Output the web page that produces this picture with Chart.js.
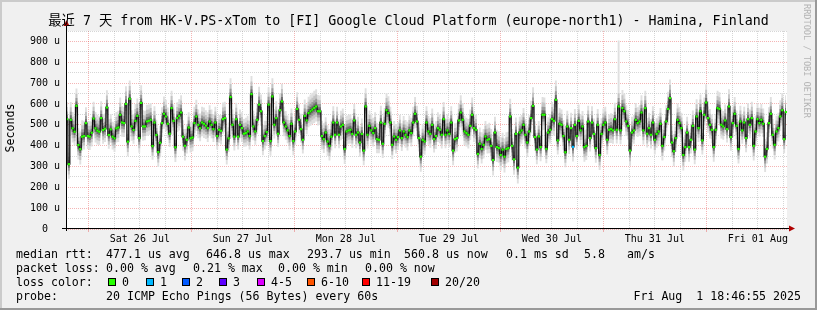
<!DOCTYPE html>
<html>
<head>
<meta charset="utf-8">
<script src="https://cdn.jsdelivr.net/npm/chart.js@4.4.1/dist/chart.umd.min.js"></script>
<style>
  html, body { margin: 0; padding: 0; }
  body { width: 817px; height: 310px; overflow: hidden; }
  #frame {
    position: relative; width: 817px; height: 310px; background: #f0f0f0;
    box-shadow: inset -2px -2px 0 #999999, inset 2px 2px 0 #cbcbcb;
  }
  canvas { position: absolute; left: 0; top: 0; }
  .t { position: absolute; font-family: 'DejaVu Sans Mono', monospace; font-size: 11.6px;
       line-height: 14px; white-space: pre; color: #000; }
  #title { position: absolute; left: 0; width: 817px; top: 13px; text-align: center;
           font-family: 'DejaVu Sans Mono', 'Noto Sans CJK SC', monospace; font-size: 13.3px;
           line-height: 16px; white-space: pre; color: #000; }
  #ylabel { position: absolute; left: -22px; top: 121px; width: 64px; text-align: center;
            transform: rotate(-90deg); font-family: 'DejaVu Sans Mono', monospace;
            font-size: 11.6px; line-height: 14px; }
  #mark { position: absolute; left: 802px; top: 4px; writing-mode: vertical-rl;
          font-family: 'DejaVu Sans Mono', monospace; font-size: 8.6px; color: #b4b4b4;
          white-space: pre; line-height: 10px; }
  .box { position: absolute; width: 6px; height: 6px; border: 1px solid #000; }
</style>
</head>
<body>
<div id="frame">
  <canvas id="myChart" width="817" height="310"></canvas>
  <div id="title"></div>
  <div id="ylabel">Seconds</div>
  <div id="mark">RRDTOOL / TOBI OETIKER</div>
</div>
<script>
'use strict'
const title = '最近 7 天 from HK-V.PS-xTom to [FI] Google Cloud Platform (europe-north1) - Hamina, Finland'
const days = ['Sat 26 Jul', 'Sun 27 Jul', 'Mon 28 Jul', 'Tue 29 Jul', 'Wed 30 Jul', 'Thu 31 Jul', 'Fri 01 Aug']
const hoursShown = 168
const hoursToFirstMidnight = 5.218 // graph starts Fri 25 Jul 18:46:55

// median rtt per step, in microseconds (u)
const median = [
  527, 311, 524, 483, 467, 591, 403, 383, 443, 446,
  508, 446, 443, 462, 530, 483, 472, 467, 532, 475,
  481, 583, 451, 478, 443, 435, 483, 487, 548, 511,
  508, 600, 419, 625, 492, 475, 519, 543, 436, 605,
  492, 492, 516, 519, 524, 398, 511, 451, 369, 414,
  508, 553, 540, 505, 457, 580, 519, 392, 532, 543,
  559, 443, 399, 428, 487, 435, 439, 508, 540, 500,
  483, 511, 505,
  496, 484, 516, 500, 479, 511, 446, 476, 471, 527,
  532, 381, 435, 633, 500, 443, 527, 443, 500, 484,
  457, 460, 468, 446, 647, 492, 468, 524, 597, 565,
  422, 446, 465, 597, 422, 636, 500, 532, 457, 570,
  612, 511, 492, 473, 446, 505, 422, 468, 576, 524,
  479, 428, 543, 521, 556, 565, 573, 581, 588, 565,
  565, 446, 431, 463, 420, 399, 443, 511, 452, 511,
  452, 492, 500, 384, 468, 473, 476,
  456, 521, 452, 463, 415, 456, 376, 588, 452, 495,
  473, 460, 484, 431, 428, 511, 409, 505, 570, 556,
  511, 404, 444, 428, 441, 473, 436, 468, 452, 441,
  473, 460, 511, 553, 516, 436, 347, 428, 420, 511,
  468, 456, 500, 431, 446, 484, 476, 452, 527, 452,
  473, 456, 511, 376, 431, 436, 521, 559, 524, 468,
  460, 452, 495, 548, 484, 476, 360, 409, 384, 404,
  444, 428, 431, 399, 331, 463,
  393, 388, 355, 381, 347, 384, 388, 540, 399, 334,
  457, 294, 463, 473, 500, 452, 415, 468, 532, 591,
  441, 381, 444, 393, 548, 548, 384, 463, 476, 527,
  519, 620, 425, 505, 500, 446, 368, 492, 428, 484,
  394, 500, 446, 519, 473, 492, 393, 399, 516, 436,
  511, 456, 388, 500, 355, 456, 500, 511, 428, 476,
  479, 473, 527, 476, 588, 473, 580, 565, 516, 495,
  376, 463, 473, 524, 508, 516, 559,
  473, 580, 457, 484, 452, 511, 428, 456, 468, 505,
  399, 441, 516, 576, 628, 415, 373, 436, 524, 508,
  484, 355, 393, 463, 393, 428, 495, 381, 540, 484,
  565, 425, 548, 607, 532, 500, 476, 393, 476, 580,
  576, 500, 492, 521, 479, 588, 441, 508, 553, 495,
  384, 516, 473, 511, 436, 527, 500, 532, 399, 468,
  527, 508, 524, 505, 347, 384, 508, 553, 452, 404,
  468, 484, 540, 570, 431, 561
]

// half height of the smoke (ping spread) per step, in u
const spread = [
  72, 70, 74, 68, 66, 72, 70, 74, 68, 64,
  66, 62, 64, 66, 70, 68, 66, 64, 70, 66,
  64, 72, 66, 64, 62, 66, 68, 70, 72, 68,
  66, 74, 70, 76, 68, 66, 70, 72, 70, 74,
  68, 66, 70, 68, 70, 66, 68, 64, 72, 70,
  66, 72, 70, 68, 64, 72, 68, 70, 66, 70,
  72, 68, 70, 66, 64, 68, 66, 68, 70, 64,
  62, 66, 68,
  64, 66, 68, 64, 62, 66, 64, 62, 66, 70,
  68, 72, 66, 78, 64, 66, 68, 62, 64, 66,
  62, 64, 66, 64, 76, 66, 64, 68, 74, 70,
  68, 64, 66, 72, 70, 76, 66, 70, 64, 70,
  74, 66, 64, 62, 66, 64, 68, 64, 70, 66,
  64, 66, 68, 66, 68, 70, 70, 72, 72, 68,
  66, 64, 66, 64, 68, 70, 66, 68, 64, 66,
  64, 66, 68, 72, 66, 64, 66,
  66, 68, 64, 66, 68, 64, 70, 76, 66, 64,
  66, 64, 66, 68, 64, 70, 68, 66, 72, 70,
  66, 68, 64, 66, 62, 64, 62, 64, 62, 64,
  62, 64, 66, 70, 66, 64, 72, 66, 64, 68,
  64, 66, 68, 64, 62, 66, 64, 66, 72, 64,
  66, 64, 68, 70, 66, 64, 68, 72, 70, 66,
  64, 66, 68, 72, 66, 64, 70, 68, 70, 66,
  64, 66, 68, 70, 74, 66,
  72, 70, 74, 70, 76, 70, 68, 74, 70, 74,
  68, 76, 66, 64, 70, 66, 70, 68, 72, 78,
  66, 70, 64, 68, 74, 72, 68, 64, 66, 72,
  70, 80, 68, 66, 64, 66, 72, 66, 68, 64,
  70, 66, 64, 68, 66, 64, 70, 68, 66, 64,
  68, 64, 70, 66, 72, 66, 68, 66, 70, 64,
  66, 64, 68, 66, 78, 66, 76, 74, 68, 66,
  72, 66, 64, 70, 66, 68, 72,
  68, 72, 66, 64, 66, 68, 70, 66, 64, 66,
  70, 66, 68, 72, 78, 70, 72, 66, 68, 66,
  64, 74, 70, 66, 70, 66, 64, 70, 72, 66,
  70, 68, 72, 76, 70, 66, 64, 70, 66, 72,
  70, 66, 64, 66, 64, 72, 66, 68, 70, 64,
  70, 66, 64, 66, 68, 66, 64, 68, 70, 66,
  66, 64, 66, 64, 74, 70, 66, 70, 66, 70,
  66, 64, 68, 72, 68, 70
]

// single outlier ping column
const spikeIdx = [290]
const spikeTop = [905]
// steps with one lost ping
const lossIdx = [266]

const yTicks = [0, 100, 200, 300, 400, 500, 600, 700, 800, 900]

const rttLine = ['median rtt:', '477.1 us avg', '646.8 us max', '293.7 us min', '560.8 us now', '0.1 ms sd', '5.8', 'am/s']
const lossLine = ['packet loss:', '0.00 % avg', '0.21 % max', '0.00 % min', '0.00 % now']
const lossLabels = ['0', '1', '2', '3', '4-5', '6-10', '11-19', '20/20']
const lossColors = ['#26ff00', '#00b8ff', '#0059ff', '#5e00ff', '#dd00ff', '#ff5500', '#ff0000', '#a10000']
const probeLine = ['probe:', '20 ICMP Echo Pings (56 Bytes) every 60s']
const stamp = 'Fri Aug  1 18:46:55 2025'

// ---- text around the graph
const frame = document.querySelector('#frame')
document.querySelector('#title').textContent = title
function addText(str, left, top) {
  const el = document.createElement('div')
  el.className = 't'
  el.textContent = str
  el.style.left = left + 'px'
  el.style.top = top + 'px'
  frame.appendChild(el)
  return el
}
const rttX = [16, 106, 206, 307, 404, 506, 584, 627]
rttLine.forEach((s, i) => addText(s, rttX[i], 247))
const lossX = [16, 106, 193, 278, 365]
lossLine.forEach((s, i) => addText(s, lossX[i], 261))
addText('loss color:', 16, 275)
const boxX = [108, 146, 182, 219, 257, 307, 362, 431]
lossLabels.forEach((s, i) => {
  const b = document.createElement('div')
  b.className = 'box'
  b.style.left = boxX[i] + 'px'
  b.style.top = '278px'
  b.style.background = lossColors[i]
  frame.appendChild(b)
  addText(s, boxX[i] + 14, 275)
})
addText(probeLine[0], 16, 289)
addText(probeLine[1], 106, 289)
const st = addText(stamp, 0, 289)
st.style.left = ''
st.style.right = '16px'

// ---- chart
const xs = median.map((_, i) => (i + 0.5) * hoursShown / median.length)
const bandFrac = [1, 0.7, 0.45, 0.25, 0.1]
const bandColor = ['#e0e0e0', '#c4c4c4', '#9c9c9c', '#6e6e6e', '#404040']
const datasets = []
bandFrac.forEach((f, b) => {
  const hi = median.map((m, i) => {
    let v = m + spread[i] * 1.15 * f
    const s = spikeIdx.indexOf(i)
    if (b === 0 && s >= 0) v = spikeTop[s]
    return { x: xs[i], y: v }
  })
  const lo = median.map((m, i) => ({ x: xs[i], y: m - spread[i] * f }))
  datasets.push({
    data: hi, borderWidth: 0, pointRadius: 0, stepped: 'middle',
    fill: { target: datasets.length + 1 }, backgroundColor: bandColor[b], order: 100 - b
  })
  datasets.push({
    data: lo, borderWidth: 0, pointRadius: 0, stepped: 'middle', fill: false, order: 100 - b
  })
})
datasets.push({
  data: median.map((m, i) => ({ x: xs[i], y: m })),
  borderColor: '#111', borderWidth: 1.3, pointRadius: 0, stepped: 'middle', fill: false, order: 2
})
datasets.push({
  data: median.map((m, i) => ({ x: xs[i], y: m })),
  showLine: false, pointStyle: 'rect', pointRadius: 1.6, pointBorderWidth: 0,
  pointBackgroundColor: (c) => lossIdx.includes(c.dataIndex) ? lossColors[1] : lossColors[0],
  order: 1
})

const gridHours = []
for (let h = hoursToFirstMidnight; h <= hoursShown; h += 6) gridHours.push(h)

const minor = 'rgba(140, 140, 140, 0.36)'
const major = 'rgba(225, 60, 60, 0.38)'
const tickFont = { family: 'DejaVu Sans Mono', size: 10 }

const graphPlugin = {
  id: 'graph',
  beforeDraw(chart) {
    const { ctx, chartArea: a } = chart
    ctx.save()
    ctx.fillStyle = '#fff'
    ctx.fillRect(a.left, a.top, a.right - a.left, a.bottom - a.top)
    ctx.restore()
  },
  afterDraw(chart) {
    const { ctx, chartArea: a } = chart
    const yb = a.bottom - 0.5
    const xl = a.left + 0.5
    ctx.save()
    ctx.strokeStyle = '#000'
    ctx.lineWidth = 1
    ctx.beginPath()
    ctx.moveTo(a.left - 4, yb)
    ctx.lineTo(a.right + 3, yb)
    ctx.moveTo(xl, a.bottom + 2)
    ctx.lineTo(xl, a.top - 5)
    ctx.stroke()
    ctx.fillStyle = '#b00000'
    ctx.beginPath()
    ctx.moveTo(a.right + 8, yb)
    ctx.lineTo(a.right + 2, yb - 3)
    ctx.lineTo(a.right + 2, yb + 3)
    ctx.fill()
    ctx.beginPath()
    ctx.moveTo(xl, a.top - 11)
    ctx.lineTo(xl - 3, a.top - 5)
    ctx.lineTo(xl + 3, a.top - 5)
    ctx.fill()
    ctx.restore()
  }
}

const myChart = new Chart(document.getElementById('myChart').getContext('2d'), {
  type: 'line',
  data: { datasets },
  options: {
    responsive: false,
    animation: false,
    devicePixelRatio: 1,
    layout: { padding: { left: 0, top: 31, right: 30, bottom: 61 } },
    plugins: { legend: { display: false }, tooltip: { enabled: false }, filler: { propagate: false } },
    scales: {
      x: {
        type: 'linear', min: 0, max: hoursShown, z: 1,
        afterFit: (s) => { s.height = 20 },
        afterBuildTicks: (s) => { s.ticks = gridHours.map((v) => ({ value: v })) },
        ticks: {
          autoSkip: false, maxRotation: 0, padding: 1, color: '#000', font: tickFont,
          callback: (v, i) => (i % 4 === 2 ? days[(i - 2) / 4] : '')
        },
        grid: {
          color: (c) => (c.index % 4 === 0 ? major : minor),
          tickColor: (c) => (c.index % 4 === 0 ? major : 'rgba(0,0,0,0)'),
          tickLength: 3
        },
        border: { display: false, dash: [1, 1] }
      },
      y: {
        min: 0, max: 950, z: 1,
        afterFit: (s) => { s.width = 66 },
        afterBuildTicks: (s) => {
          const t = []
          for (let v = 0; v <= 950; v += 50) t.push({ value: v })
          s.ticks = t
        },
        ticks: {
          autoSkip: false, padding: 6, color: '#000', font: tickFont,
          callback: (v) => (yTicks.includes(v) ? (v === 0 ? '0  ' : v + ' u') : '')
        },
        grid: {
          color: (c) => (c.tick && c.tick.value % 100 === 0 ? major : minor),
          drawTicks: false
        },
        border: { display: false, dash: [1, 1] }
      }
    }
  },
  plugins: [graphPlugin]
})
</script>
</body>
</html>
